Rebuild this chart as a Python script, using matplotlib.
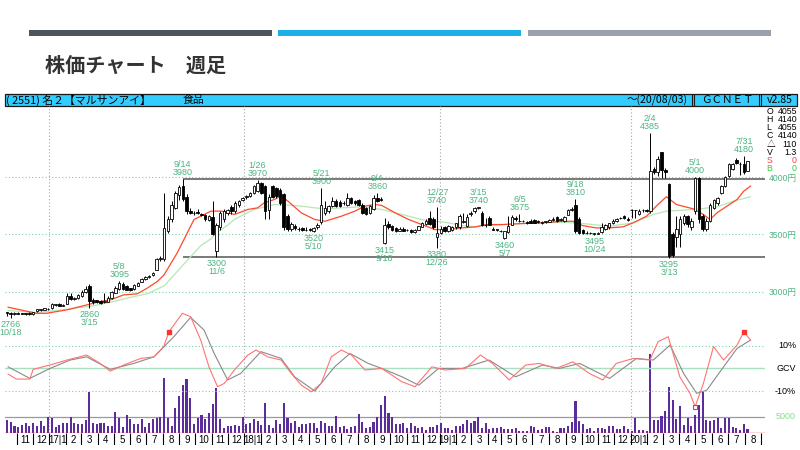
"""
週足チャート（2551 マルサンアイ）
ローソク足 + 13/26週移動平均 + GCVオシレーター + 出来高
"""
import numpy as np
import pandas as pd
import matplotlib
matplotlib.use('Agg')
import matplotlib.pyplot as plt
from matplotlib import font_manager as fm
from matplotlib.patches import Rectangle


def has_font(name):
    try:
        fm.findfont(fm.FontProperties(family=name), fallback_to_default=False)
        return True
    except Exception:
        return False


NARROW = 'Liberation Sans Narrow' if has_font('Liberation Sans Narrow') else 'Liberation Sans'
JP = 'Noto Sans CJK JP'
plt.rcParams['font.family'] = [JP, 'DejaVu Sans']

# ---------------- data (weekly, 2016-10-10 .. 2020-08-03) ----------------
opens = [
    2820, 2815, 2800, 2815, 2810, 2808, 2812, 2802, 2830, 2840,
    2842, 2850, 2855, 2885, 2895, 2878, 2895, 2960, 2935, 2940,
    2960, 2995, 3045, 2930, 2922, 2918, 2905, 2912, 2940, 2990,
    3020, 3070, 3048, 3030, 3018, 3050, 3085, 3110, 3130, 3145,
    3190, 3285, 3285, 3530, 3630, 3730, 3845, 3920, 3830, 3705,
    3685, 3692, 3680, 3668, 3625, 3650, 3350, 3560, 3630, 3690,
    3735, 3700, 3760, 3800, 3825, 3835, 3860, 3880, 3950, 3920,
    3715, 3920, 3905, 3890, 3850, 3660, 3545, 3570, 3550, 3555,
    3535, 3545, 3530, 3560, 3610, 3690, 3700, 3745, 3790, 3785,
    3775, 3760, 3820, 3790, 3800, 3760, 3730, 3690, 3720, 3820,
    3810, 3425, 3590, 3570, 3555, 3530, 3550, 3535, 3540, 3520,
    3540, 3565, 3590, 3640, 3630, 3480, 3510, 3560, 3530, 3540,
    3560, 3560, 3610, 3570, 3680, 3700, 3730, 3690, 3585, 3640,
    3550, 3540, 3530, 3470, 3520, 3585, 3640, 3620, 3615, 3605,
    3620, 3622, 3615, 3600, 3610, 3610, 3625, 3648, 3628, 3615,
    3670, 3715, 3760, 3630, 3540, 3515, 3510, 3505, 3505, 3520,
    3545, 3560, 3600, 3615, 3640, 3660, 3630, 3715, 3710, 3680,
    3710, 3715, 3700, 4070, 4040, 4215, 4060, 3940, 3500, 3480,
    3500, 3600, 3660, 3560, 3700, 3990, 3660, 3550, 3620, 3730,
    3770, 3860, 3920, 4010, 4070, 4150, 4115, 4110, 4055]
highs = [
    2825, 2820, 2820, 2818, 2815, 2812, 2818, 2822, 2850, 2848,
    2858, 2855, 2900, 2895, 2900, 2892, 2985, 2985, 2950, 2975,
    3010, 3045, 3065, 2940, 2930, 2925, 2985, 2960, 3005, 3050,
    3095, 3080, 3055, 3035, 3065, 3085, 3120, 3140, 3142, 3170,
    3290, 3310, 3860, 3660, 3790, 3880, 3930, 3980, 3850, 3730,
    3700, 3725, 3690, 3675, 3670, 3790, 3600, 3700, 3720, 3725,
    3760, 3790, 3800, 3830, 3845, 3870, 3930, 3970, 3960, 3930,
    3850, 3930, 3915, 3900, 3860, 3680, 3605, 3590, 3560, 3560,
    3560, 3555, 3560, 3600, 3900, 3790, 3760, 3830, 3810, 3800,
    3790, 3860, 3830, 3800, 3810, 3770, 3740, 3760, 3840, 3860,
    3830, 3640, 3620, 3580, 3565, 3560, 3560, 3545, 3545, 3545,
    3575, 3610, 3630, 3700, 3650, 3740, 3570, 3570, 3580, 3570,
    3600, 3680, 3690, 3680, 3700, 3735, 3740, 3700, 3640, 3660,
    3560, 3550, 3540, 3530, 3660, 3665, 3660, 3675, 3625, 3620,
    3630, 3630, 3625, 3615, 3620, 3630, 3650, 3660, 3640, 3660,
    3720, 3740, 3810, 3650, 3550, 3525, 3520, 3515, 3520, 3600,
    3590, 3600, 3630, 3640, 3655, 3670, 3650, 3725, 3715, 3720,
    3720, 3720, 4385, 4090, 4180, 4220, 4080, 3950, 3520, 3660,
    3660, 3680, 3670, 3640, 4000, 4000, 3680, 3640, 3770, 3810,
    3830, 3930, 4010, 4120, 4120, 4170, 4130, 4180, 4140]
lows = [
    2790, 2766, 2795, 2800, 2800, 2798, 2795, 2798, 2825, 2832,
    2838, 2840, 2850, 2875, 2870, 2870, 2890, 2925, 2925, 2935,
    2955, 2990, 2860, 2895, 2900, 2895, 2900, 2905, 2935, 2985,
    3010, 3015, 3010, 3005, 3012, 3045, 3080, 3100, 3122, 3140,
    3185, 3270, 3270, 3515, 3610, 3720, 3800, 3790, 3680, 3680,
    3670, 3675, 3660, 3620, 3615, 3490, 3300, 3540, 3610, 3670,
    3680, 3690, 3740, 3790, 3810, 3830, 3850, 3870, 3850, 3630,
    3630, 3820, 3820, 3760, 3540, 3530, 3530, 3540, 3530, 3530,
    3525, 3528, 3520, 3545, 3590, 3670, 3690, 3740, 3740, 3740,
    3760, 3750, 3765, 3760, 3745, 3680, 3665, 3680, 3710, 3785,
    3790, 3415, 3550, 3530, 3520, 3525, 3525, 3525, 3515, 3515,
    3535, 3560, 3580, 3580, 3550, 3380, 3500, 3520, 3520, 3530,
    3550, 3550, 3600, 3560, 3660, 3690, 3720, 3570, 3565, 3580,
    3535, 3530, 3520, 3460, 3515, 3580, 3620, 3605, 3605, 3590,
    3595, 3595, 3600, 3590, 3600, 3605, 3620, 3610, 3620, 3610,
    3665, 3700, 3510, 3505, 3505, 3505, 3500, 3495, 3500, 3510,
    3535, 3550, 3590, 3605, 3630, 3630, 3615, 3640, 3640, 3670,
    3695, 3695, 3690, 4030, 4010, 3990, 3990, 3295, 3300, 3390,
    3390, 3580, 3560, 3540, 3680, 3600, 3530, 3530, 3610, 3720,
    3760, 3850, 3910, 4000, 4060, 4110, 4020, 4030, 4055]
closes = [
    2815, 2805, 2815, 2808, 2806, 2804, 2800, 2818, 2845, 2842,
    2852, 2846, 2893, 2888, 2876, 2886, 2965, 2932, 2942, 2970,
    3000, 3025, 2915, 2905, 2905, 2900, 2915, 2940, 2998, 3030,
    3075, 3020, 3015, 3015, 3060, 3078, 3112, 3130, 3135, 3160,
    3280, 3290, 3555, 3635, 3760, 3865, 3915, 3805, 3700, 3690,
    3690, 3685, 3665, 3630, 3660, 3500, 3585, 3685, 3700, 3710,
    3700, 3770, 3790, 3820, 3835, 3860, 3920, 3950, 3860, 3700,
    3830, 3830, 3835, 3775, 3560, 3545, 3590, 3555, 3545, 3535,
    3540, 3535, 3555, 3585, 3760, 3730, 3745, 3790, 3750, 3750,
    3770, 3820, 3775, 3770, 3760, 3690, 3675, 3745, 3820, 3795,
    3800, 3585, 3560, 3540, 3530, 3550, 3530, 3535, 3520, 3540,
    3570, 3600, 3620, 3590, 3560, 3515, 3550, 3525, 3570, 3565,
    3595, 3660, 3620, 3650, 3690, 3730, 3735, 3580, 3580, 3585,
    3540, 3538, 3525, 3525, 3570, 3650, 3630, 3615, 3612, 3600,
    3600, 3598, 3605, 3605, 3612, 3628, 3630, 3615, 3630, 3655,
    3715, 3720, 3525, 3515, 3512, 3510, 3508, 3510, 3515, 3565,
    3580, 3595, 3620, 3635, 3645, 3640, 3625, 3710, 3712, 3700,
    3712, 3705, 4055, 4045, 4155, 4065, 4040, 3310, 3320, 3545,
    3630, 3660, 3590, 3620, 3990, 3630, 3545, 3620, 3760, 3800,
    3820, 3920, 4000, 4110, 4110, 4120, 4110, 4045, 4140]
volume = [
    4000, 3500, 2000, 1700, 2500, 3200, 2000, 3200, 2300, 3700,
    2200, 5000, 4700, 1700, 2500, 3200, 3200, 5000, 3000, 2900,
    2900, 4000, 12700, 3200, 2700, 3000, 3000, 2200, 2200, 6400,
    4700, 1700, 5500, 4400, 2700, 2700, 4300, 1700, 3000, 4200,
    4500, 5000, 16800, 4700, 2200, 7800, 11200, 14800, 16700, 10700,
    2800, 4700, 5400, 4200, 6200, 9000, 13900, 4400, 1400, 2200,
    2200, 2600, 2000, 5000, 2700, 3000, 4200, 3700, 2600, 9200,
    2500, 1500, 4000, 2800, 9200, 4700, 3200, 3700, 1700, 2700,
    2700, 3200, 3000, 1500, 3700, 3200, 2200, 2200, 5200, 1700,
    2200, 1300, 1800, 2200, 5700, 3500, 1500, 1800, 3500, 4800,
    8700, 11500, 6200, 4800, 2700, 2700, 3000, 1500, 3200, 2200,
    1500, 1700, 1000, 1700, 1800, 2500, 3000, 1500, 1500, 1000,
    2200, 2200, 2700, 4000, 3200, 3700, 4800, 1500, 3000, 1300,
    1500, 1500, 1700, 1200, 1200, 1200, 1500, 700, 700, 700,
    2300, 1700, 800, 1300, 1700, 1700, 700, 400, 1500, 1500,
    2300, 3300, 9700, 3700, 2700, 1300, 1500, 500, 1500, 1500,
    1300, 2000, 2000, 1300, 1300, 2000, 1300, 500, 4700, 800,
    1000, 500, 24300, 4000, 4000, 5200, 6700, 14000, 10200, 4200,
    8200, 2500, 4500, 2300, 5500, 8500, 12500, 4000, 3800, 4000,
    4500, 1500, 4500, 4500, 1700, 1500, 800, 2700, 1300]

# moving averages (week position, yen)
ma13_x = [0.3, 7.9, 10.5, 16, 21.3, 24.9, 27.6, 31.2, 34.8, 37.5, 40.2, 42, 45.5, 48.2, 50,
          51.8, 54.5, 57.4, 60.8, 64.4, 67, 68.8, 71.5, 73.3, 75.1, 78.7, 82.3, 85, 89.4, 93,
          95.7, 98.4, 100.2, 103.8, 107.4, 110.9, 114.5, 118.1, 121.7, 125.3, 128, 132.4,
          137.8, 143.2, 148.6, 151.3, 153.9, 157.5, 161.1, 164.7, 167.4, 171, 173.6, 176.3,
          179, 183.5, 186.2, 188, 189.8, 192.5, 195.2, 197, 198.8]
ma13 = [2863, 2810, 2810, 2840, 2883, 2913, 2927, 2971, 2980, 3030, 3088, 3146, 3337, 3512, 3629,
        3658, 3702, 3702, 3673, 3717, 3731, 3775, 3804, 3834, 3790, 3687, 3629, 3614, 3658, 3702,
        3746, 3761, 3752, 3687, 3629, 3585, 3541, 3541, 3556, 3565, 3585, 3585,
        3594, 3600, 3614, 3614, 3576, 3556, 3556, 3565, 3600, 3658, 3746, 3828,
        3760, 3722, 3673, 3629, 3687, 3746, 3804, 3877, 3921]
ma26_x = [0.3, 7.9, 16, 23.1, 28.5, 33.9, 37.5, 42, 43.7, 45.5, 50, 51.8, 54.5, 56.3, 59,
          60.8, 63.4, 66.1, 67.9, 71.5, 75.1, 78.7, 82.3, 85.4, 89.4, 94.8, 100.2, 105.6,
          110.9, 114.5, 118.1, 121.7, 125.3, 128, 137.8, 148.6, 153.9, 161.1, 167.4, 172.8,
          176.3, 181, 185.3, 189.8, 194.3, 198.8]
ma26 = [2834, 2816, 2845, 2875, 2913, 2956, 2980, 3050, 3110, 3175, 3337, 3400, 3460, 3520, 3580,
        3630, 3673, 3717, 3731, 3760, 3755, 3746, 3731, 3722, 3731, 3740, 3717, 3673,
        3629, 3614, 3600, 3576, 3565, 3576, 3594, 3606, 3594, 3570, 3600, 3673,
        3702, 3711, 3722, 3740, 3790, 3828]

# GCV oscillator (%)
osc_red_x = [0.3, 2.5, 6.1, 7.0, 11.5, 16.0, 21.3, 24.9, 27.6, 31.2, 35.7, 39.3, 41.9, 43.3,
             46.9, 49.1, 51.8, 54.0, 56.3, 58.1, 60.8, 64.4, 66.6, 69.7, 73.3, 76.0, 78.7,
             81.4, 84.0, 86.7, 89.4, 92.1, 95.7, 100.2, 105.6, 109.1, 113.6, 117.2, 122.6,
             126.6, 129.8, 134.3, 138.7, 142.3, 146.8, 151.3, 155.7, 159.3, 162.9, 167.4,
             171.9, 174.1, 176.8, 179.9, 182.6, 184.0, 186.2, 188.9, 191.6, 195.2, 197.0, 198.8]
osc_red = [-2.5, -4.7, -4.7, -0.4, 1.5, 3.7, 5.9, 2.2, -1.2, 1.5, 4.4, 5.1, 9.6, 16.2,
           24.3, 22.8, 12.5, 0.7, -8.1, -6.6, -0.7, 5.9, 8.1, 5.1, 3.7, -2.2, -7.4,
           -10.3, -6.6, 5.1, 8.1, 5.9, -0.7, 0.0, -5.9, -8.1, 0.7, -0.7, 0.0,
           5.9, 2.2, -5.1, 1.5, 2.2, 0.0, 2.9, -2.2, -5.1, 2.2, 4.4,
           3.7, 11.8, 14.0, -3.7, -11.0, -16.9, -6.6, 9.6, 3.7, 10.3, 16.2, 12.5]
osc_gray_x = [0.3, 6.1, 11.5, 16.9, 21.3, 27.6, 33.9, 39.3, 44.6, 49.1, 52.7, 55.4, 59.0, 62.5,
              67.9, 73.3, 76.9, 82.3, 87.6, 91.7, 96.6, 100.2, 105.6, 110.1, 115.4, 121.7,
              128.9, 136.0, 143.2, 147.7, 153.1, 161.1, 168.3, 172.8, 177.3, 180.9, 184.4,
              187.1, 191.6, 195.2, 198.8]
osc_gray = [0.7, -4.4, 0.0, 3.7, 5.1, -0.4, 2.2, 5.1, 14.0, 22.5, 16.9, 6.6, -5.1, -2.2,
            7.4, 4.4, -3.7, -10.0, 0.7, 6.6, 2.2, 0.0, -3.7, -7.4, 0.0, 0.0,
            3.7, -3.7, 1.5, 0.0, 2.2, -4.4, 4.4, 3.7, 10.3, -2.2, -11.0,
            -9.6, 0.7, 8.8, 12.5]
sig_x = [43.3, 197.0]
sig_v = [16.2, 16.2]
sig2_x = [184.0]
sig2_v = [-16.9]

# high / low annotations (candle index, date text)
hi_idx = [30, 47, 67, 84, 99, 115, 126, 137, 152, 172, 184, 197]
hi_date = ['5/8', '9/14', '1/26', '5/21', '9/4', '12/27', '3/15', '6/5', '9/18', '2/4', '5/1', '7/31']
lo_idx = [1, 22, 56, 82, 101, 115, 133, 157, 177]
lo_date = ['10/18', '3/15', '11/6', '5/10', '9/18', '12/26', '5/7', '10/24', '3/13']

# weekly slots by Monday; no trading in Golden Week 2019. Axis runs past the last candle.
weeks = pd.date_range('2016-10-10', '2020-09-14', freq='W-MON')
weeks = weeks[weeks != pd.Timestamp('2019-04-29')]
month_starts = pd.date_range('2016-11-01', '2020-09-01', freq='MS')

# ---------------- style ----------------
GREEN_TXT = '#4cb582'
GRID_GREEN = '#7fd0a8'
ZERO_GREEN = '#a8e0c2'
MA13_C = '#ff4a2a'
MA26_C = '#b6e6b6'
OSC_RED = '#ff7373'
OSC_GRAY = '#8a8a8a'
VOL_C = '#5b2c9c'

W, H = 800, 450


def rect(x0, y0, x1, y1):
    return [x0 / W, 1 - y1 / H, (x1 - x0) / W, (y1 - y0) / H]


fig = plt.figure(figsize=(8, 4.5), dpi=100)
fig.patch.set_facecolor('white')

# page decoration in pixel coordinates
bg = fig.add_axes([0, 0, 1, 1], label='bg')
bg.set_xlim(0, W)
bg.set_ylim(H, 0)
bg.axis('off')

bg.add_patch(Rectangle((29, 30), 243, 5.7, color='#4b555b', lw=0))
bg.add_patch(Rectangle((278, 30), 243, 5.7, color='#1caee6', lw=0))
bg.add_patch(Rectangle((528, 30), 243, 5.7, color='#9ba1aa', lw=0))
bg.text(45, 65, '株価チャート\u3000週足', fontsize=14.5, fontweight='bold',
        color='#333333', va='center', ha='left', family=[JP])

# cyan header bar
bg.add_patch(Rectangle((5, 94), 792, 12, facecolor='#33ccff', edgecolor='#1a1a1a', lw=0.9))
bg.text(5.5, 100.3, '( 2551) 名２【マルサンアイ】', fontsize=7.8, va='center', ha='left', family=[JP])
bg.text(183, 100.3, '食品', fontsize=7.8, va='center', ha='left', family=[JP])
bg.text(688, 100.3, '〜(20/08/03)', fontsize=7.6, va='center', ha='right', family=[JP])
bg.text(727, 100.3, 'ＧＣＮＥＴ', fontsize=7.6, va='center', ha='center', family=[JP])
bg.text(780, 100.3, 'v2.85', fontsize=7.6, va='center', ha='center', family=[JP])
bg.vlines([691.5, 694, 758.5, 761], 94, 106, color='#1a1a1a', lw=0.8)

# latest bar panel (top right)
panel_keys = ['O', 'H', 'L', 'C', '△', 'V', 'S', 'B']
panel_vals = [str(opens[-1]), str(highs[-1]), str(lows[-1]), str(closes[-1]), '110', '1.3', '0', '0']
panel_cols = ['black'] * 6 + ['#ff3b3b', '#3cc83c']
for k, (key, val, col) in enumerate(zip(panel_keys, panel_vals, panel_cols)):
    yy = 111.7 + 8.1 * k
    bg.text(766.5, yy, key, fontsize=6.3, color=col, va='center', ha='left', family=[NARROW, JP])
    bg.text(797, yy, val, fontsize=6.3, color=col, va='center', ha='right', family=[NARROW, JP])

# chart axes: volume, oscillator and price share one box
CHART = rect(5, 106, 765, 433)
ax_vol = fig.add_axes(CHART, label='vol')
ax_osc = fig.add_axes(CHART, label='osc')
ax_pr = fig.add_axes(CHART, label='price')
ax_mon = fig.add_axes(rect(5, 433, 765, 445), label='months')

X0_PX, STEP = 7.0, 3.74
xlim = ((5 - X0_PX) / STEP, (765 - X0_PX) / STEP)
for a in (ax_vol, ax_osc, ax_pr, ax_mon):
    a.set_xlim(*xlim)
    a.patch.set_visible(False)
    for s in a.spines.values():
        s.set_visible(False)
    a.set_xticks([])
    a.set_yticks([])

ax_pr.set_ylim(1764.6, 4620.5)
ax_osc.set_ylim(-28.5, 115.8)
ax_vol.set_ylim(0, 100300)
ax_mon.set_ylim(0, 1)

n = len(closes)
idx = np.arange(n)
o = np.array(opens, dtype=float)
h = np.array(highs, dtype=float)
l = np.array(lows, dtype=float)
c = np.array(closes, dtype=float)

# month / year boundaries (calendar position between weekly slots)
wk_days = (weeks - weeks[0]).days.values
bounds = np.interp((month_starts - weeks[0]).days.values, wk_days, np.arange(len(weeks)) - 0.5)

dotted = (0, (1, 2))
for b, ms in zip(bounds, month_starts):
    if ms.month == 1:
        ax_vol.axvline(b, color='#a8a8a8', lw=0.8, ls=dotted)

# month strip
inside = bounds[(bounds > xlim[0]) & (bounds < xlim[1])]
ax_mon.vlines(inside, 0, 1, color='black', lw=0.8)
for j in range(len(bounds) - 1):
    left, right = bounds[j], bounds[j + 1]
    if left < xlim[0] or left > xlim[1]:
        continue
    m = month_starts[j].month
    txt = f'{month_starts[j].year % 100}|1' if m == 1 else str(m)
    ax_mon.text((left + right) / 2, 0.45, txt, fontsize=7, ha='center', va='center',
                family=[NARROW], clip_on=True)

# volume
ax_vol.axhline(5000, color='#9a9a9a', lw=0.9)
ax_vol.bar(idx, volume, width=0.55, color=VOL_C, lw=0, zorder=2)
ax_vol.axhline(0, color='#ff3030', lw=1.0, zorder=3)
ax_vol.text(1 + 31 / 760, 5000, '5000', transform=ax_vol.get_yaxis_transform(), fontsize=6.5,
            color='#86e086', ha='right', va='center', family=[NARROW], clip_on=False)

# oscillator
for v in (10, -10):
    ax_osc.axhline(v, color=GRID_GREEN, lw=0.8, ls=dotted)
ax_osc.axhline(0, color=ZERO_GREEN, lw=1.0)
ax_osc.plot(osc_gray_x, osc_gray, color=OSC_GRAY, lw=0.8)
ax_osc.plot(osc_red_x, osc_red, color=OSC_RED, lw=0.8)
ax_osc.plot(sig_x, sig_v, 's', ms=2.6, color='#ff3030', mec='#ff3030')
ax_osc.plot(sig2_x, sig2_v, 's', ms=3.0, mfc='white', mec='#ff3030', mew=0.8)
for v, lab in ((10, '10%'), (0, 'GCV'), (-10, '-10%')):
    ax_osc.text(1 + 31 / 760, v, lab, transform=ax_osc.get_yaxis_transform(), fontsize=6.5,
                ha='right', va='center', family=[NARROW], clip_on=False)

# price
for v in (3000, 3500, 4000):
    ax_pr.axhline(v, color=GRID_GREEN, lw=0.8, ls=dotted)
ax_pr.hlines([h[47], l[56]], 47, xlim[1], color='#555555', lw=1.1)
ax_pr.plot(ma26_x, ma26, color=MA26_C, lw=0.9)
ax_pr.plot(ma13_x, ma13, color=MA13_C, lw=0.9)

up = c >= o
body_lo = np.minimum(o, c)
body_h = np.maximum(np.abs(c - o), 5)
ax_pr.vlines(idx, l, h, color='black', lw=0.7, zorder=3)
ax_pr.bar(idx[up], body_h[up], bottom=body_lo[up], width=0.68, color='white',
          edgecolor='black', lw=0.6, zorder=4)
ax_pr.bar(idx[~up], body_h[~up], bottom=body_lo[~up], width=0.68, color='black',
          edgecolor='black', lw=0.6, zorder=4)

for i, d in zip(hi_idx, hi_date):
    ax_pr.annotate(f'{d}\n{highs[i]}', (i, highs[i]), xytext=(0, 1.5), textcoords='offset points',
                   ha='center', va='bottom', fontsize=6.5, color=GREEN_TXT, linespacing=0.85,
                   family=[NARROW], zorder=6)
for i, d in zip(lo_idx, lo_date):
    ax_pr.annotate(f'{lows[i]}\n{d}', (i, lows[i]), xytext=(0, -1.5), textcoords='offset points',
                   ha='center', va='top', fontsize=6.5, color=GREEN_TXT, linespacing=0.85,
                   family=[NARROW], zorder=6)

ax_pr.set_yticks([3000, 3500, 4000])
ax_pr.set_yticklabels([f'{v}円' for v in (3000, 3500, 4000)], fontsize=6.2,
                      color=GREEN_TXT, family=[NARROW, JP])
ax_pr.tick_params(axis='y', left=False, right=False, labelleft=False, labelright=True,
                  length=0, pad=2.5)

plt.savefig('out.png', dpi=100, facecolor='white')
